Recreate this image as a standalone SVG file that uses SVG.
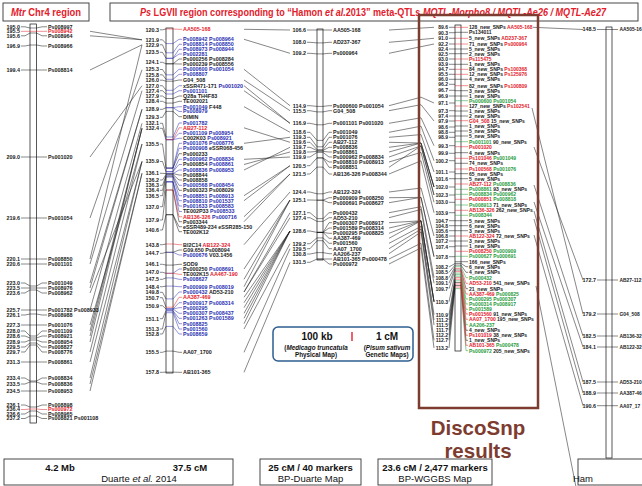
<svg xmlns="http://www.w3.org/2000/svg" width="642" height="486" viewBox="0 0 642 486">
<style>
text{font-family:"Liberation Sans",Arial,sans-serif}
.t{font-weight:bold;font-size:5.4px;fill:#1a1a1a}
.s{font-size:5px}
.n{text-anchor:end}
.r{fill:#e3202b}
.b{fill:#2b2fb0}
.g{fill:#1f9a3a}
.k{fill:#1a1a1a}
.ln{fill:none;stroke:#111;stroke-width:0.5}
.lr{stroke:#e3202b}
.lb{stroke:#2b2fb0}
.lg{stroke:#1f9a3a}
.bar{fill:#fff;stroke:#111;stroke-width:0.7}
.cn{fill:none;stroke:#222;stroke-width:0.55}
.hd{font-weight:bold;font-size:10px;fill:#e3202b}
.box{fill:#fff;stroke:#333;stroke-width:0.9}
.cap{font-size:9.5px;fill:#111;text-anchor:middle}
.bd{font-weight:bold}
.it{font-style:italic}
.h5{font-weight:bold;font-size:4.9px;fill:#1a1a1a}
</style>
<rect width="642" height="486" fill="#fff"/>

<!-- header -->
<g id="header">
<rect class="box" x="3" y="3" width="86" height="18"/>
<text class="hd" x="46" y="15.5" text-anchor="middle" textLength="70" lengthAdjust="spacingAndGlyphs"><tspan class="it">Mtr</tspan> Chr4 region</text>
<rect class="box" x="110" y="3" width="528" height="18"/>
<text class="hd" x="373" y="15.5" text-anchor="middle" textLength="466" lengthAdjust="spacingAndGlyphs"><tspan class="it">Ps</tspan> LGVII  region corresponding to “Hamon <tspan class="it">et al.</tspan>2013” meta-QTLs <tspan class="it">MQTL-Morpho8 / MQTL-Ae26 / MQTL-Ae27</tspan></text>
</g>

<!-- connectors between maps -->
<g id="connectors">
<path class="cn" d="M90 31.3L142 39.8M90 35.8L142 39.8M90 70L142 44.8M90 157L142 85.7M90 218L142 69.8M90 259L142 44.8M90 264L142 90.7M90 283L142 109.3M90 288L142 109.3M90 293L142 161.5M90 310L142 123.3M90 325L142 144M90 331L142 128.3M90 336L142 128.3M90 342L142 128.3M90 352L142 144M90 362L142 161.5M90 378L142 161.5M90 384L142 173.3M90 391L142 173.3"/>
<path class="cn" d="M244 29.3L290 30M244 39.3L290 53.3M244 69.3L290 105.7M244 80L290 110.7M244 85.7L290 123.3M244 90.7L290 123.3M244 106.7L290 132.3M244 127.8L290 142.3M244 143.3L290 137.3M244 159.3L290 157M244 164.5L290 152M244 170L290 147.3M244 195.7L290 165.7M244 200.7L290 165.7M244 216.7L290 174M244 221.7L290 174M244 244.7L290 192M244 269L290 200M244 279.3L290 200M244 286.7L290 200M244 292L290 212.7M244 292L290 217.7M244 297.3L290 231M244 302.7L290 231M244 307.7L290 231M244 313.3L290 231M244 318.3L290 231M244 323.7L290 231M244 329L290 243.7M244 352.3L290 248.7M244 372.3L290 262.3"/>
<path class="cn" d="M389 30L434 27.3M389 42.3L434 38.3M389 53.3L434 44M389 105.7L421 97.2L434 103M389 110.7L421 104.7L434 121M389 123.3L421 117.8L434 145.7M389 132.3L421 126.2L434 160.7M389 137.3L421 134.6L434 172M389 142.3L421 143L434 187M389 147.3L421 143L434 187M389 152L421 143L434 187M389 157L421 145.9L434 195M389 162L421 152.4L434 202.3M389 167.3L421 145.9L434 195M389 174L421 160.8L434 212.7M389 192L421 188L434 236M389 197.7L421 197.4L434 256.7M389 202.7L421 197.4L434 256.7M389 212.7L421 206.7L434 277.7M389 217.7L421 209.5L434 283.3M389 222.7L421 220.8L434 301.7M389 228L421 220.8L434 301.7M389 233.3L421 220.8L434 301.7M389 238.3L421 220.8L434 301.7M389 243.3L421 226.4L434 314.7M389 248.7L421 229.2L434 320M389 253.7L421 232L434 325M389 259L421 243.2L434 340.3M389 264L421 247.9L434 348"/>
<path class="cn" d="M533 27.3L583 29.5M532 108L583 314M534 147L583 280M534 185L583 336M534 202L583 347M534 211L583 382M534 219L583 393M534 235L583 405.7M536 286L576 487"/>
</g>

<!-- Medicago truncatula chromosome 4 physical map -->
<g id="mtr-chr4">
<rect class="bar" x="30" y="24" width="6.5" height="399"/>
<path class="ln" d="M21 26.8H25L30 28H36.5L42 26.8H47M21 35.8H25L30 33H36.5L42 35.8H47M21 46H25L30 45H36.5L42 46H47M21 70H47M21 157H47M21 218H47M21 259H47M21 264H47M21 283H25L30 286H36.5L42 283H47M21 288H47M21 293H25L30 290H36.5L42 293H47M21 310H47M21 315H25L30 314H36.5L42 315H47M21 325H47M21 331H25L30 336H36.5L42 331H47M21 336H25L30 338H36.5L42 336H47M21 342H25L30 340H36.5L42 342H47M21 347H25L30 343H36.5L42 347H47M21 352H25L30 345H36.5L42 352H47M21 362H47M21 378H25L30 381H36.5L42 378H47M21 384H25L30 382H36.5L42 384H47M21 391H47M21 405H25L30 407H36.5L42 405H47M21 414H25L30 411H36.5L42 414H47M21 418.5H25L30 416H36.5L42 418.5H47"/>
<path class="ln lr" d="M21 31.3H47M21 409.5H25L30 409H36.5L42 409.5H47"/>
<text class="t n" x="20" y="28.7">195.0</text><text class="t" x="48" y="28.7">Ps008997</text>
<text class="t n" x="20" y="33.2">195.5</text><text class="t r" x="48" y="33.2">Ps008942</text>
<text class="t n" x="20" y="37.7">195.6</text><text class="t" x="48" y="37.7">Ps008964</text>
<text class="t n" x="20" y="47.9">196.9</text><text class="t" x="48" y="47.9">Ps008966</text>
<text class="t n" x="20" y="71.9">199.4</text><text class="t" x="48" y="71.9">Ps008814</text>
<text class="t n" x="20" y="158.9">209.0</text><text class="t" x="48" y="158.9">Ps001020</text>
<text class="t n" x="20" y="219.9">219.6</text><text class="t" x="48" y="219.9">Ps001054</text>
<text class="t n" x="20" y="260.9">220.1</text><text class="t" x="48" y="260.9">Ps008850</text>
<text class="t n" x="20" y="265.9">220.6</text><text class="t" x="48" y="265.9">Ps001101</text>
<text class="t n" x="20" y="284.9">223.0</text><text class="t" x="48" y="284.9">Ps001049</text>
<text class="t n" x="20" y="289.9">223.5</text><text class="t" x="48" y="289.9">Ps008976</text>
<text class="t n" x="20" y="294.9">223.6</text><text class="t" x="48" y="294.9">Ps008962</text>
<text class="t n" x="20" y="311.9">225.7</text><text class="t" x="48" y="311.9">Ps001782 Ps008933</text>
<text class="t n" x="20" y="316.9">226.1</text><text class="t" x="48" y="316.9">Ps008988</text>
<text class="t n" x="20" y="326.9">227.3</text><text class="t" x="48" y="326.9">Ps001076</text>
<text class="t n" x="20" y="332.9">228.0</text><text class="t" x="48" y="332.9">Ps001109</text>
<text class="t n" x="20" y="337.9">228.6</text><text class="t" x="48" y="337.9">Ps008921</text>
<text class="t n" x="20" y="343.9">228.9</text><text class="t" x="48" y="343.9">Ps008954</text>
<text class="t n" x="20" y="348.9">229.5</text><text class="t" x="48" y="348.9">Ps008827</text>
<text class="t n" x="20" y="353.9">229.7</text><text class="t" x="48" y="353.9">Ps008776</text>
<text class="t n" x="20" y="363.9">231.3</text><text class="t" x="48" y="363.9">Ps008861</text>
<text class="t n" x="20" y="379.9">233.4</text><text class="t" x="48" y="379.9">Ps008834</text>
<text class="t n" x="20" y="385.9">233.5</text><text class="t" x="48" y="385.9">Ps008836</text>
<text class="t n" x="20" y="392.9">234.5</text><text class="t" x="48" y="392.9">Ps008953</text>
<text class="t n" x="20" y="406.9">236.1</text><text class="t" x="48" y="406.9">Ps008898</text>
<text class="t n" x="20" y="411.4">236.4</text><text class="t r" x="48" y="411.4">Ps000972</text>
<text class="t n" x="20" y="415.9">236.6</text><text class="t" x="48" y="415.9">Ps008965</text>
<text class="t n" x="20" y="420.4">237.2</text><text class="t" x="48" y="420.4">Ps008821 Ps001108</text>
</g>

<!-- Duarte et al. 2014 consensus map -->
<g id="duarte-map">
<rect class="bar" x="166" y="28" width="7" height="345"/>
<path class="ln" d="M160 29.8H162.5L166 29M160 39.8H162.5L166 43.6M160 44.8H162.5L166 52.8M160 52.3H162.5L166 58.3M160 62.3H162.5L166 63.8M160 69.5H162.5L166 74.8M160 74.8H162.5L166 79.3M160 80.2H162.5L166 81.2M160 85.7H162.5L166 90.3M160 90.7H162.5L166 94M160 96H162.5L166 98.5M160 101.3H162.5L166 103.1M160 109.3H162.5L166 107.7M160 117.3H162.5L166 111.4M160 123.3H162.5L166 137M160 128.3H162.5L166 139.7M160 144H162.5L166 168.1M160 161.5H162.5L166 171.7M160 173.3H162.5L166 173.6M160 180H162.5L166 174.5M160 185.3H162.5L166 175.4M160 190.3H162.5L166 176.3M160 195.7H162.5L166 177.2M160 206.7H162.5L166 181.8M160 220H162.5L166 190M160 230H162.5L166 214.7M160 244.7H162.5L166 244M160 253.3H162.5L166 252.3M160 264.3H162.5L166 265.1M160 272.3H162.5L166 273.3M160 279.3H162.5L166 277.9M160 286.7H162.5L166 286.1M160 292.3H162.5L166 298.9M160 297.7H162.5L166 307.2M160 305.7H162.5L166 309M160 318.7H162.5L166 310.8M160 329H162.5L166 312.7M160 334H162.5L166 326.4M160 352.3H162.5L166 351.1M160 372.3H162.5L166 372.1"/>
<path class="ln" d="M166 63.8H173L179 59H182M166 63.8H173L179 64H182M166 81.2H173L179 80H182M166 98.5H173L179 96H182M166 103.1H173L179 101.3H182M166 111.4H173L179 116.7H182M166 168.1H173L179 153.7H182M166 173.6H173L179 175H182M166 174.5H173L179 180H182M166 176.3H173L179 190.3H182M166 190H173L179 221.7H182M166 214.7H173L179 226.7H182M166 214.7H173L179 231.7H182M166 252.3H173L179 250H182M166 265.1H173L179 264.3H182M166 351.1H173L179 352.3H182M166 372.1H173L179 372.3H182"/>
<path class="ln lb" d="M166 43.6H173L179 39.3H182M166 52.8H173L179 44.3H182M166 58.3H173L179 49.3H182M166 58.3H173L179 54H182M166 74.8H173L179 69.3H182M166 79.3H173L179 74.3H182M166 90.3H173L179 85.7H182M166 94H173L179 90.7H182M166 107.7H173L179 106.7H182M166 107.7H173L179 111.5H182M166 137H173L179 123H182M166 139.7H173L179 133.3H182M166 139.7H173L179 138.3H182M166 168.1H173L179 143.3H182M166 168.1H173L179 148.3H182M166 171.7H173L179 159.3H182M166 171.7H173L179 164.5H182M166 173.6H173L179 170H182M166 175.4H173L179 185.3H182M166 177.2H173L179 195.7H182M166 181.8H173L179 200.7H182M166 181.8H173L179 206H182M166 181.8H173L179 211.5H182M166 252.3H173L179 255H182M166 273.3H173L179 269H182M166 277.9H173L179 279.3H182M166 286.1H173L179 286.7H182M166 298.9H173L179 292H182M166 309H173L179 302.7H182M166 309H173L179 307.7H182M166 309H173L179 313.3H182M166 310.8H173L179 318.3H182M166 310.8H173L179 323.7H182M166 312.7H173L179 329H182M166 326.4H173L179 334H182"/>
<path class="ln lr" d="M166 29H173L179 29.3H182M166 139.7H173L179 127.8H182M166 190H173L179 216.7H182M166 244H173L179 244.7H182M166 273.3H173L179 274.3H182M166 307.2H173L179 297.3H182"/>
<text class="t n" x="159" y="31.7">120.3</text>
<text class="t n" x="159" y="41.7">121.9</text>
<text class="t n" x="159" y="46.7">122.9</text>
<text class="t n" x="159" y="54.2">123.5</text>
<text class="t n" x="159" y="64.2">124.1</text>
<text class="t n" x="159" y="71.4">125.3</text>
<text class="t n" x="159" y="76.7">125.8</text>
<text class="t n" x="159" y="82.1">126.0</text>
<text class="t n" x="159" y="87.6">127.0</text>
<text class="t n" x="159" y="92.6">127.4</text>
<text class="t n" x="159" y="97.9">127.9</text>
<text class="t n" x="159" y="103.2">128.4</text>
<text class="t n" x="159" y="111.2">128.9</text>
<text class="t n" x="159" y="119.2">129.3</text>
<text class="t n" x="159" y="125.2">132.1</text>
<text class="t n" x="159" y="130.2">132.4</text>
<text class="t n" x="159" y="145.9">135.5</text>
<text class="t n" x="159" y="163.4">135.9</text>
<text class="t n" x="159" y="175.2">136.1</text>
<text class="t n" x="159" y="181.9">136.2</text>
<text class="t n" x="159" y="187.2">136.3</text>
<text class="t n" x="159" y="192.2">136.4</text>
<text class="t n" x="159" y="197.6">136.5</text>
<text class="t n" x="159" y="208.6">137.0</text>
<text class="t n" x="159" y="221.9">137.9</text>
<text class="t n" x="159" y="231.9">140.6</text>
<text class="t n" x="159" y="246.6">143.8</text>
<text class="t n" x="159" y="255.2">144.7</text>
<text class="t n" x="159" y="266.2">146.1</text>
<text class="t n" x="159" y="274.2">147.0</text>
<text class="t n" x="159" y="281.2">147.5</text>
<text class="t n" x="159" y="288.6">148.4</text>
<text class="t n" x="159" y="294.2">149.8</text>
<text class="t n" x="159" y="299.6">150.7</text>
<text class="t n" x="159" y="307.6">150.9</text>
<text class="t n" x="159" y="320.6">151.1</text>
<text class="t n" x="159" y="330.9">151.3</text>
<text class="t n" x="159" y="335.9">152.8</text>
<text class="t n" x="159" y="354.2">155.5</text>
<text class="t n" x="159" y="374.2">157.8</text>
<text class="t r" x="183" y="31.2">AA505-168</text>
<text class="t b" x="183" y="41.2">Ps008942 Ps008964</text>
<text class="t b" x="183" y="46.2">Ps008814 Ps008850</text>
<text class="t b" x="183" y="51.2">Ps008973 Ps008944</text>
<text class="t b" x="183" y="55.9">Ps002281</text>
<text class="t" x="183" y="60.9">Ps000256 Ps008284</text>
<text class="t" x="183" y="65.9">Ps000239 Ps008556</text>
<text class="t b" x="183" y="71.2">Ps000600 Ps001054</text>
<text class="t b" x="183" y="76.2">Ps008807</text>
<text class="t" x="183" y="81.9">G04_508</text>
<text class="t" x="183" y="87.6">xSSR471-171 <tspan class="b">Ps001020</tspan></text>
<text class="t b" x="183" y="92.6">Ps001101</text>
<text class="t" x="183" y="97.9">Q28a TH4F83</text>
<text class="t" x="183" y="103.2">TE002021</text>
<text class="t" x="183" y="108.6"><tspan class="b">Ps001049</tspan> F448</text>
<text class="t b" x="183" y="113.4">Ps008979</text>
<text class="t" x="183" y="118.6">DIMIN</text>
<text class="t b" x="183" y="124.9">Ps001782</text>
<text class="t r" x="183" y="129.7">AB27-112</text>
<text class="t b" x="183" y="135.2">Ps001109 Ps008954</text>
<text class="t" x="183" y="140.2">C002K03 <tspan class="b">Ps008921</tspan></text>
<text class="t b" x="183" y="145.2">Ps001076 Ps008776</text>
<text class="t" x="183" y="150.2"><tspan class="b">Ps000908</tspan> eSSR068-456</text>
<text class="t" x="183" y="155.6">Ps000233</text>
<text class="t b" x="183" y="161.2">Ps000962 Ps008834</text>
<text class="t" x="183" y="166.4">Ps000854 <tspan class="b">Ps008861</tspan></text>
<text class="t b" x="183" y="171.9">Ps008836 Ps008953</text>
<text class="t" x="183" y="176.9">Ps008844</text>
<text class="t" x="183" y="181.9">Ps008858</text>
<text class="t b" x="183" y="187.2">Ps000568 Ps008454</text>
<text class="t" x="183" y="192.2">Ps000323 Ps008029</text>
<text class="t b" x="183" y="197.6">Ps008851 Ps008913</text>
<text class="t b" x="183" y="202.6">Ps008810 Ps001537</text>
<text class="t b" x="183" y="207.9">Ps001633 Ps008583</text>
<text class="t" x="183" y="213.4">TE002P33 <tspan class="b">Ps008533</tspan></text>
<text class="t" x="183" y="218.6"><tspan class="r">AB136-326</tspan> <tspan class="b">Ps000716</tspan></text>
<text class="t" x="183" y="223.6">Ps003344</text>
<text class="t" x="183" y="228.6">eSSR489-234 eSSR285-150</text>
<text class="t" x="183" y="233.6">TE002K12</text>
<text class="t" x="183" y="246.6">BI2C14 <tspan class="r">AB122-324</tspan></text>
<text class="t" x="183" y="251.9">G09.650 Ps008094</text>
<text class="t" x="183" y="256.9"><tspan class="b">Ps000676</tspan> V03.1456</text>
<text class="t" x="183" y="266.2">SOD9</text>
<text class="t" x="183" y="270.9">Ps000250 <tspan class="b">Ps008691</tspan></text>
<text class="t" x="183" y="276.2">TE002K15 <tspan class="r">AA467-190</tspan></text>
<text class="t b" x="183" y="281.2">Ps008627</text>
<text class="t b" x="183" y="288.6">Ps000909 Ps008019</text>
<text class="t" x="183" y="293.9"><tspan class="b">Ps000432</tspan> AD53-210</text>
<text class="t r" x="183" y="299.2">AA387-469</text>
<text class="t b" x="183" y="304.6">Ps000917 Ps008314</text>
<text class="t b" x="183" y="309.6">Ps000295</text>
<text class="t b" x="183" y="315.2">Ps000307 Ps008437</text>
<text class="t b" x="183" y="320.2">Ps001263 Ps001589</text>
<text class="t b" x="183" y="325.6">Ps008825</text>
<text class="t b" x="183" y="330.9">Ps001560</text>
<text class="t b" x="183" y="335.9">Ps008659</text>
<text class="t" x="183" y="354.2">AA07_1700</text>
<text class="t" x="183" y="374.2">AB101-365</text>
</g>

<!-- BP-Duarte map -->
<g id="bp-duarte-map">
<rect class="bar" x="317" y="29" width="6" height="231"/>
<path class="ln" d="M307 30H317M307 42.3H310L317 42.9M307 53.3H310L317 53.9M307 105.7H310L317 106.4M307 110.7H310L317 111.9M307 123.3H310L317 124.8M307 132.3H310L317 140.4M307 137.3H310L317 146.8M307 142.3H310L317 149.6M307 147.3H310L317 150.5M307 152H310L317 151.4M307 157H310L317 152.4M307 165.7H310L317 157.9M307 174H310L317 167.1M307 192H310L317 193.8M307 200H310L317 200.2M307 212.7H310L317 218.6M307 217.7H310L317 221.4M307 231H310L317 232.4M307 243.7H310L317 237.9M307 248.7H310L317 240.7M307 254H310L317 252.6M307 262.3H310L317 259"/>
<path class="ln" d="M317 30H332M317 42.9H323L329 42.3H332M317 53.9H323L329 53.3H332M317 106.4H323L329 105.7H332M317 111.9H323L329 110.7H332M317 124.8H323L329 123.3H332M317 140.4H323L329 132.3H332M317 146.8H323L329 137.3H332M317 149.6H323L329 142.3H332M317 150.5H323L329 147.3H332M317 151.4H323L329 152H332M317 152.4H323L329 157H332M317 157.9H323L329 162H332M317 157.9H323L329 167.3H332M317 167.1H323L329 174H332M317 193.8H323L329 192H332M317 200.2H323L329 197.7H332M317 200.2H323L329 202.7H332M317 218.6H323L329 212.7H332M317 221.4H323L329 217.7H332M317 232.4H323L329 222.7H332M317 232.4H323L329 228H332M317 232.4H323L329 233.3H332M317 232.4H323L329 238.3H332M317 237.9H323L329 243.3H332M317 240.7H323L329 248.7H332M317 252.6H323L329 253.7H332M317 259H332M317 259H323L329 264H332"/>
<text class="t n" x="306" y="31.9">106.6</text><text class="t" x="333" y="31.9">AA505-168</text>
<text class="t n" x="306" y="44.2">108.0</text><text class="t" x="333" y="44.2">AD237-367</text>
<text class="t n" x="306" y="55.2">109.2</text><text class="t" x="333" y="55.2">Ps000964</text>
<text class="t n" x="306" y="107.6">114.9</text><text class="t" x="333" y="107.6">Ps000600 Ps001054</text>
<text class="t n" x="306" y="112.6">115.5</text><text class="t" x="333" y="112.6">G04_508</text>
<text class="t n" x="306" y="125.2">116.9</text><text class="t" x="333" y="125.2">Ps001101 Ps001020</text>
<text class="t n" x="306" y="134.2">118.6</text><text class="t" x="333" y="134.2">Ps001049</text>
<text class="t n" x="306" y="139.2">119.3</text><text class="t" x="333" y="139.2">Ps001076</text>
<text class="t n" x="306" y="144.2">119.6</text><text class="t" x="333" y="144.2">AB27-112</text>
<text class="t n" x="306" y="149.2">119.7</text><text class="t" x="333" y="149.2">Ps008836</text>
<text class="t n" x="306" y="153.9">119.8</text><text class="t" x="333" y="153.9">Ps008861</text>
<text class="t n" x="306" y="158.9">119.9</text><text class="t" x="333" y="158.9">Ps000962 Ps008834</text>
<text class="t" x="333" y="163.9">Ps008810 Ps008913</text>
<text class="t n" x="306" y="167.6">120.5</text><text class="t" x="333" y="169.2">Ps008851</text>
<text class="t n" x="306" y="175.9">121.5</text><text class="t" x="333" y="175.9">AB136-326 Ps008344</text>
<text class="t n" x="306" y="193.9">124.4</text><text class="t" x="333" y="193.9">AB122-324</text>
<text class="t" x="333" y="199.6">Ps000909 Ps008250</text>
<text class="t n" x="306" y="201.9">125.1</text><text class="t" x="333" y="204.6">Ps000691 Ps008627</text>
<text class="t n" x="306" y="214.6">127.1</text><text class="t" x="333" y="214.6">Ps000432</text>
<text class="t n" x="306" y="219.6">127.4</text><text class="t" x="333" y="219.6">AD53-210</text>
<text class="t" x="333" y="224.6">Ps000307 Ps008917</text>
<text class="t" x="333" y="229.9">Ps001589 Ps008314</text>
<text class="t n" x="306" y="232.9">128.6</text><text class="t" x="333" y="235.2">Ps000295 Ps008825</text>
<text class="t" x="333" y="240.2">AA387-469</text>
<text class="t n" x="306" y="245.6">129.2</text><text class="t" x="333" y="245.2">Ps001560</text>
<text class="t n" x="306" y="250.6">129.5</text><text class="t" x="333" y="250.6">AA07_1700</text>
<text class="t n" x="306" y="255.9">130.8</text><text class="t" x="333" y="255.6">AA206-237</text>
<text class="t n" x="306" y="264.2">131.5</text><text class="t" x="333" y="260.9">AB101-365 Ps000478</text>
<text class="t" x="333" y="265.9">Ps000972</text>
</g>

<!-- BP-WGGBS map with DiscoSnp markers -->
<g id="bp-wggbs-map">
<rect class="bar" x="455" y="25" width="6" height="326"/>
<path class="ln" d="M449 27.3H455M449 32.7H455M449 38.3H455M449 44H455M449 49H455M449 53.7H455M449 59H455M449 64.3H455M449 69.3H455M449 74.3H455M449 79.3H455M449 84.3H455M449 90.3H455M449 96H455M449 103H455M449 110.7H455M449 116H455M449 121H455M449 127H455M449 132.3H455M449 137.3H455M449 145.7H455M449 153.3H455M449 160.7H455M449 172H455M449 178.7H455M449 187H455M449 195H455M449 202.3H455M449 212.7H455M449 220.7H455M449 225.7H455M449 230.7H455M449 236H455M449 241H455M449 246.7H455M449 256.7H455M449 267L455 263.5M449 272.3L455 265.1M449 277.7L455 266.7M449 283.3L455 268.4M449 288.7L455 270M449 301.7L455 273.9M449 314.7L455 277.8M449 320L455 279.4M449 325L455 280.9M449 330.3L455 282.5M449 335.3L455 284M449 340.3L455 285.5M449 348L455 287.8"/>
<path class="ln" d="M455 32.3H468M455 49H468M455 53.7H468M455 64.3H468M455 79.3H468M455 90.7H468M455 96H468M455 111H468M455 116H468M455 126H468M455 131H468M455 136H468M455 152.7H468M455 163.3H468M455 173.7H468M455 178.7H468M455 220.7H468M455 225.7H468M455 230.7H468M455 241H468M455 246H468M455 261.7H468M455 263.4H461L466 266.7H468M455 265.1H461L466 272.3H468M455 270H461L466 288.7H468M455 282.5H461L466 330.3H468M455 285.5H461L466 340.3H468"/>
<path class="ln lg" d="M455 100.7H468M455 141.7H468M455 189.3H468M455 194.3H468M455 205H468M455 215.3H468M455 256.3H468M455 266.7H461L466 277.7H468M455 273.1H461L466 299H468M455 274.6H461L466 304H468M455 276.2H461L466 309.3H468M455 280.8H461L466 324.7H468M455 288.6H461L466 350.7H468"/>
<path class="ln lr" d="M455 27.3H468M455 38.3H468M455 44H468M455 59H468M455 69.3H468M455 74.3H468M455 85.7H468M455 106H468M455 120.7H468M455 146.7H468M455 158.3H468M455 169H468M455 184H468M455 199.3H468M455 210.3H468M455 236H468M455 251.3H468M455 268.4H461L466 283.3H468M455 271.6H461L466 294H468M455 277.6H461L466 314H468M455 279.2H461L466 319.3H468M455 284H461L466 335.3H468M455 287H461L466 345.3H468"/>
<g class="t s">
<text class="n" x="448" y="29.1">89.6</text>
<text class="n" x="448" y="34.5">90.3</text>
<text class="n" x="448" y="40.1">91.0</text>
<text class="n" x="448" y="45.8">92.2</text>
<text class="n" x="448" y="50.8">92.4</text>
<text class="n" x="448" y="55.5">92.5</text>
<text class="n" x="448" y="60.8">93.0</text>
<text class="n" x="448" y="66.1">93.9</text>
<text class="n" x="448" y="71.1">94.7</text>
<text class="n" x="448" y="76.1">95.5</text>
<text class="n" x="448" y="81.1">96.0</text>
<text class="n" x="448" y="86.1">96.2</text>
<text class="n" x="448" y="92.1">96.7</text>
<text class="n" x="448" y="97.8">96.9</text>
<text class="n" x="448" y="104.8">97.1</text>
<text class="n" x="448" y="112.5">97.3</text>
<text class="n" x="448" y="117.8">97.4</text>
<text class="n" x="448" y="122.8">97.9</text>
<text class="n" x="448" y="128.8">98.6</text>
<text class="n" x="448" y="134.1">98.8</text>
<text class="n" x="448" y="139.1">98.9</text>
<text class="n" x="448" y="147.5">99.3</text>
<text class="n" x="448" y="155.1">99.9</text>
<text class="n" x="448" y="162.5">100.2</text>
<text class="n" x="448" y="173.8">101.1</text>
<text class="n" x="448" y="180.5">101.6</text>
<text class="n" x="448" y="188.8">102.0</text>
<text class="n" x="448" y="196.8">102.3</text>
<text class="n" x="448" y="204.1">103.0</text>
<text class="n" x="448" y="214.5">103.9</text>
<text class="n" x="448" y="222.5">104.7</text>
<text class="n" x="448" y="227.5">104.8</text>
<text class="n" x="448" y="232.5">105.6</text>
<text class="n" x="448" y="237.8">106.8</text>
<text class="n" x="448" y="242.8">107.2</text>
<text class="n" x="448" y="248.5">107.4</text>
<text class="n" x="448" y="258.5">107.8</text>
<text class="n" x="448" y="268.8">108.2</text>
<text class="n" x="448" y="274.1">108.5</text>
<text class="n" x="448" y="279.5">108.8</text>
<text class="n" x="448" y="285.1">109.1</text>
<text class="n" x="448" y="290.5">109.7</text>
<text class="n" x="448" y="303.5">110.3</text>
<text class="n" x="448" y="316.5">110.9</text>
<text class="n" x="448" y="321.8">111.2</text>
<text class="n" x="448" y="326.8">111.5</text>
<text class="n" x="448" y="332.1">111.7</text>
<text class="n" x="448" y="337.1">112.2</text>
<text class="n" x="448" y="342.1">112.7</text>
<text class="n" x="448" y="349.8">113.2</text>
<text x="469" y="29.1">128_new_SNPs <tspan class="r">AA505-168</tspan></text>
<text x="469" y="34.1">Ps134011</text>
<text x="469" y="40.1">5_new_SNPs <tspan class="r">AD237-367</tspan></text>
<text x="469" y="45.8">71_new_SNPs <tspan class="r">Ps000964</tspan></text>
<text x="469" y="50.8">5_new_SNPs</text>
<text x="469" y="55.5">2_new_SNPs</text>
<text class="r" x="469" y="60.8">Ps115475</text>
<text x="469" y="66.1">1_new_SNPs</text>
<text x="469" y="71.1">84_new_SNPs <tspan class="r">Ps100368</tspan></text>
<text x="469" y="76.1">12_new_SNPs <tspan class="r">Ps125976</tspan></text>
<text x="469" y="81.1">4_new_SNPs</text>
<text x="469" y="87.5">82_new_SNPs <tspan class="r">Ps100809</tspan></text>
<text x="469" y="92.5">3_new_SNPs</text>
<text x="469" y="97.8">1_new_SNPs</text>
<text class="g" x="469" y="102.5">Ps000600 Ps001054</text>
<text x="469" y="107.8">127_new_SNPs <tspan class="r">Ps102541</tspan></text>
<text x="469" y="112.8">1_new_SNPs</text>
<text x="469" y="117.8">2_new_SNPs</text>
<text x="469" y="122.5"><tspan class="r">G04_508</tspan> 15_new_SNPs</text>
<text x="469" y="127.8">1_new_SNPs</text>
<text x="469" y="132.8">5_new_SNPs</text>
<text x="469" y="137.8">5_new_SNPs</text>
<text x="469" y="143.5"><tspan class="g">Ps001101</tspan> 90_new_SNPs</text>
<text class="r" x="469" y="148.5">Ps001020</text>
<text x="469" y="154.5">4_new_SNPs</text>
<text x="469" y="160.1"><tspan class="r">Ps101046</tspan> <tspan class="g">Ps001049</tspan></text>
<text x="469" y="165.1">74_new_SNPs</text>
<text x="469" y="170.8"><tspan class="r">Ps100568</tspan> <tspan class="g">Ps001076</tspan></text>
<text x="469" y="175.5">65_new_SNPs</text>
<text x="469" y="180.5">5_new_SNPs</text>
<text x="469" y="185.8"><tspan class="r">AB27-112</tspan> <tspan class="g">Ps008836</tspan></text>
<text x="469" y="191.1"><tspan class="g">Ps008861</tspan> 93_new_SNPs</text>
<text class="g" x="469" y="196.1">Ps008834 Ps000962</text>
<text x="469" y="201.1"><tspan class="r">Ps000851</tspan> <tspan class="g">Ps008818</tspan></text>
<text x="469" y="206.8"><tspan class="g">Ps008913</tspan> 71_new_SNPs</text>
<text x="469" y="212.1"><tspan class="r">AB136-326</tspan> 262_new_SNPs</text>
<text class="g" x="469" y="217.1">Ps008344</text>
<text x="469" y="222.5">5_new_SNPs</text>
<text x="469" y="227.5">6_new_SNPs</text>
<text x="469" y="232.5">3_new_SNPs</text>
<text x="469" y="237.8"><tspan class="r">AB122-324</tspan> 72_new_SNPs</text>
<text x="469" y="242.8">3_new_SNPs</text>
<text x="469" y="247.8">1_new_SNPs</text>
<text x="469" y="253.1"><tspan class="r">Ps008250</tspan> <tspan class="g">Ps000909</tspan></text>
<text class="g" x="469" y="258.1">Ps000627 Ps000691</text>
<text x="469" y="263.5">166_new_SNPs</text>
<text x="469" y="268.5">6_new_SNPs</text>
<text x="469" y="274.1">4_new_SNPs</text>
<text class="g" x="469" y="279.5">Ps000432</text>
<text x="469" y="285.1"><tspan class="r">AD53-210</tspan> 541_new_SNPs</text>
<text x="469" y="290.5">21_new_SNPs</text>
<text x="469" y="295.8"><tspan class="r">AA387-469</tspan> <tspan class="g">Ps000825</tspan></text>
<text class="g" x="469" y="300.8">Ps000295 Ps000307</text>
<text class="g" x="469" y="305.8">Ps000314 Ps008917</text>
<text class="g" x="469" y="311.1">Ps001589</text>
<text x="469" y="315.8"><tspan class="r">Ps001560</tspan> 91_new_SNPs</text>
<text x="469" y="321.1"><tspan class="r">AA07_1700</tspan> 195_new_SNPs</text>
<text class="g" x="469" y="326.5">AA206-237</text>
<text x="469" y="332.1">4_new_SNPs</text>
<text x="469" y="337.1"><tspan class="r">Ps101019</tspan> 38_new_SNPs</text>
<text x="469" y="342.1">1_new_SNPs</text>
<text x="469" y="347.1"><tspan class="r">AB101-365</tspan> <tspan class="g">Ps000478</tspan></text>
<text x="469" y="352.5"><tspan class="g">Ps000972</tspan> 205_new_SNPs</text>
</g>
</g>

<!-- DiscoSnp frame and title -->
<g id="discosnp">
<rect x="419" y="15" width="119" height="393" fill="none" stroke="#7d3c2f" stroke-width="2.5"/>
<text x="478" y="435" text-anchor="middle" font-weight="bold" font-size="20.5" fill="#7d3c2f">DiscoSnp</text>
<text x="478" y="458" text-anchor="middle" font-weight="bold" font-size="20.5" fill="#7d3c2f">results</text>
</g>

<!-- Hamon et al. 2013 map -->
<g id="hamon-map">
<rect class="bar" x="606" y="27" width="6" height="431"/>
<path class="ln" d="M597 29.5H618M597 280H618M597 314H618M597 336H618M597 347H618M597 382H618M597 393H618M597 405.7H618"/>
<text class="t n" x="596" y="31.4">148.5</text><text class="h5" x="619.5" y="31.3">AA505-16</text>
<text class="t n" x="596" y="281.9">172.7</text><text class="h5" x="619.5" y="281.8">AB27-112</text>
<text class="t n" x="596" y="315.9">179.2</text><text class="h5" x="619.5" y="315.8">G04_508</text>
<text class="t n" x="596" y="337.9">182.5</text><text class="h5" x="619.5" y="337.8">AB136-32</text>
<text class="t n" x="596" y="348.9">184.1</text><text class="h5" x="619.5" y="348.8">AB122-32</text>
<text class="t n" x="596" y="383.9">187.5</text><text class="h5" x="619.5" y="383.8">AD53-210</text>
<text class="t n" x="596" y="394.9">188.9</text><text class="h5" x="619.5" y="394.8">AA387-46</text>
<text class="t n" x="596" y="407.6">190.6</text><text class="h5" x="619.5" y="407.5">AA07_17</text>
</g>

<!-- scale legend -->
<g id="legend">
<rect x="273" y="327" width="140" height="34" rx="5" fill="#fff" stroke="#2d5d8e" stroke-width="1.5"/>
<text x="317" y="339.5" text-anchor="middle" font-weight="bold" font-size="10" fill="#111">100 kb</text>
<line x1="352" y1="332" x2="352" y2="341" stroke="#e3202b" stroke-width="1.4"/>
<text x="387" y="339.5" text-anchor="middle" font-weight="bold" font-size="10" fill="#111">1 cM</text>
<text x="316" y="349.5" text-anchor="middle" font-weight="bold" font-size="6.3" fill="#111">(<tspan class="it">Medicago truncatula</tspan></text>
<text x="316" y="356.5" text-anchor="middle" font-weight="bold" font-size="6.3" fill="#111">Physical Map)</text>
<text x="387" y="349.5" text-anchor="middle" font-weight="bold" font-size="6.3" fill="#111">(<tspan class="it">Pisum sativum</tspan></text>
<text x="387" y="356.5" text-anchor="middle" font-weight="bold" font-size="6.3" fill="#111">Genetic Maps)</text>
</g>

<!-- map captions -->
<g id="captions">
<rect class="box" x="4" y="459" width="229" height="26"/>
<text class="cap bd" x="60" y="470.5">4.2 Mb</text>
<text class="cap bd" x="190" y="470.5">37.5 cM</text>
<text class="cap" x="139" y="482">Duarte <tspan class="it">et al.</tspan> 2014</text>
<rect class="box" x="260" y="459" width="101" height="26"/>
<text class="cap bd" x="310.5" y="470.5">25 cM / 40 markers</text>
<text class="cap" x="310.5" y="482">BP-Duarte Map</text>
<rect class="box" x="378" y="459" width="114" height="26"/>
<text class="cap bd" x="435" y="470.5">23.6 cM / 2,477 markers</text>
<text class="cap" x="435" y="482">BP-WGGBS Map</text>
<rect class="box" x="578" y="459" width="80" height="26"/>
<text class="cap" x="583" y="482" text-anchor="start">Ham</text>
</g>
</svg>
